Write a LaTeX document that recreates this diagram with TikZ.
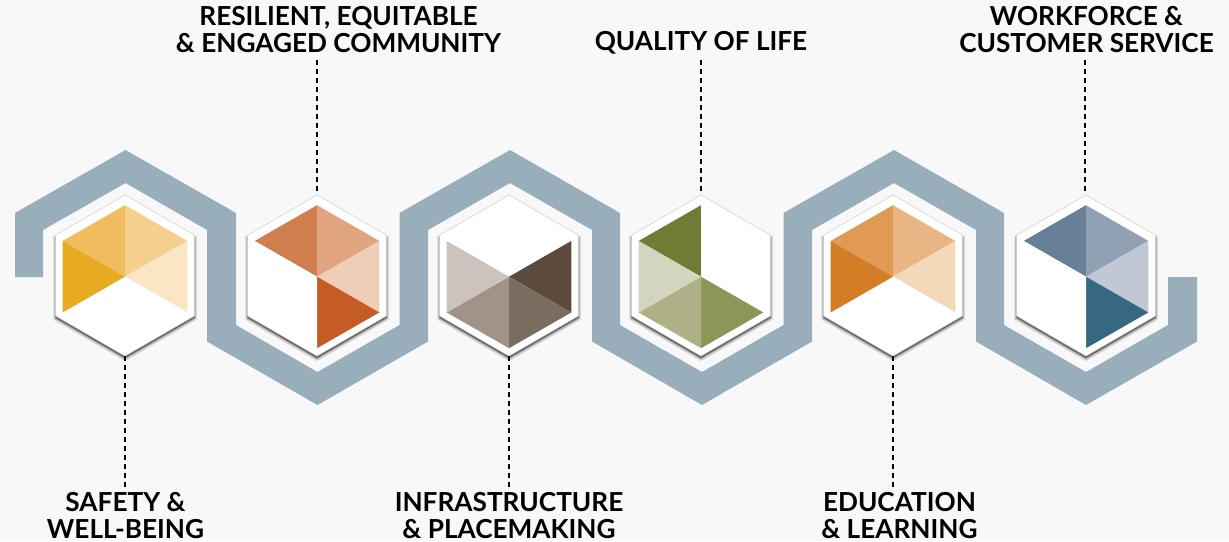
\documentclass[tikz,border=0pt]{standalone}
\usepackage{fontspec}
\usetikzlibrary{shapes.geometric}
\setmainfont{Lato}
\definecolor{pagebg}{HTML}{F8F8F8}
\definecolor{band}{HTML}{98AFBB}
\tikzset{
  x=1pt,y=-1pt,
  hexnode/.style={regular polygon,regular polygon sides=6,shape border rotate=30,minimum size=161pt,inner sep=0pt,outer sep=0pt,fill=white,draw=black!22,line width=.4pt},
  hexhalo/.style={draw=black,line join=miter,fill=black,opacity=.11},
  lead/.style={draw=black,line width=1.6pt,dash pattern=on 5pt off 4pt},
  lab/.style={font=\bfseries\fontsize{26.2}{27}\selectfont,align=center,text=black,inner sep=0pt}
}
% name, cx, colours: UL-T, T-UR, UR-LR, LR-B, B-LL, LL-UL
\newcommand{\hexa}[8]{%
  \begin{scope}[shift={(#2,275.5)}]
    \foreach \lw/\dy in {4.5/2.6,3/2.3,1.8/2,.8/1.6}{
      \path[hexhalo,line width=\lw pt] (0,-80.5+\dy) -- (69.5,-40.25+\dy) -- (69.5,40.25+\dy) -- (0,80.5+\dy) -- (-69.5,40.25+\dy) -- (-69.5,-40.25+\dy) -- cycle;
    }
    \node[hexnode] (#1) at (0,0) {};
    \begin{scope}[shift={(0,1.2)}]
      \fill[#3] (0,0) -- (-62.3,-35.75) -- (0,-71.5) -- cycle;
      \fill[#4] (0,0) -- (0,-71.5) -- (62.3,-35.75) -- cycle;
      \fill[#5] (0,0) -- (62.3,-35.75) -- (62.3,35.75) -- cycle;
      \fill[#6] (0,0) -- (62.3,35.75) -- (0,71.5) -- cycle;
      \fill[#7] (0,0) -- (0,71.5) -- (-62.3,35.75) -- cycle;
      \fill[#8] (0,0) -- (-62.3,35.75) -- (-62.3,-35.75) -- cycle;
    \end{scope}
  \end{scope}}
\definecolor{a1}{HTML}{EFBC5E}\definecolor{a2}{HTML}{F4D08C}\definecolor{a3}{HTML}{FAE6C5}\definecolor{a6}{HTML}{E8AC22}
\definecolor{b1}{HTML}{D17E4F}\definecolor{b2}{HTML}{E0A480}\definecolor{b3}{HTML}{EFCDB7}\definecolor{b4}{HTML}{C55B25}
\definecolor{c3}{HTML}{5C4A3D}\definecolor{c4}{HTML}{7B6C60}\definecolor{c5}{HTML}{A19388}\definecolor{c6}{HTML}{CCC3BD}
\definecolor{d1}{HTML}{6E7C36}\definecolor{d4}{HTML}{8C9659}\definecolor{d5}{HTML}{AEB186}\definecolor{d6}{HTML}{D3D5BE}
\definecolor{e1}{HTML}{DF9A55}\definecolor{e2}{HTML}{EAB585}\definecolor{e3}{HTML}{F4D8BA}\definecolor{e6}{HTML}{D47D27}
\definecolor{f1}{HTML}{678097}\definecolor{f2}{HTML}{90A1B3}\definecolor{f3}{HTML}{C1C8D5}\definecolor{f4}{HTML}{366881}
\begin{document}
\begin{tikzpicture}
\path[use as bounding box,fill=pagebg] (0,0) rectangle (1229,541);
\fill[band] (15,277) -- (15,213) -- (125.5,150) -- (236,213) -- (236,325) -- (317.5,372) -- (399.5,325) -- (399.5,213) -- (510,150) -- (620,213) -- (620,325) -- (702,372) -- (783.5,325) -- (783.5,213) -- (894,150) -- (1004,213) -- (1004,325) -- (1086,372) -- (1168,325) -- (1168,277) -- (1197,277) -- (1197,341.5) -- (1086,405) -- (976,341.5) -- (976,230) -- (894,183) -- (812,230) -- (812,341.5) -- (702,405) -- (592,341.5) -- (592,230) -- (510,183) -- (428,230) -- (428,341.5) -- (317.5,405) -- (207,341.5) -- (207,230) -- (125.5,183) -- (43,230) -- (43,277) -- cycle;
\hexa{h1}{125}{a1}{a2}{a3}{white}{white}{a6}
\hexa{h2}{317}{b1}{b2}{b3}{b4}{white}{white}
\hexa{h3}{509}{white}{white}{c3}{c4}{c5}{c6}
\hexa{h4}{701}{d1}{white}{white}{d4}{d5}{d6}
\hexa{h5}{893}{e1}{e2}{e3}{white}{white}{e6}
\hexa{h6}{1086}{f1}{f2}{f3}{f4}{white}{white}
\node[lab,anchor=base] (t2) at (338.5,52) {RESILIENT, EQUITABLE\\\& ENGAGED COMMUNITY};
\node[lab,anchor=base] (t4) at (701,50) {QUALITY OF LIFE};
\node[lab,anchor=base] (t6) at (1086.5,52) {WORKFORCE \&\\CUSTOMER SERVICE};
\node[lab,anchor=base] (t1) at (125.5,538.5) {SAFETY \&\\WELL-BEING};
\node[lab,anchor=base] (t3) at (509,538.5) {INFRASTRUCTURE\\\& PLACEMAKING};
\node[lab,anchor=base] (t5) at (899.5,538.5) {EDUCATION\\\& LEARNING};
\coordinate (e2) at (317,60);
\coordinate (e4) at (701,60);
\coordinate (e6) at (1085,60);
\coordinate (e1) at (125,487);
\coordinate (e3) at (509,487);
\coordinate (e5) at (893,487);
\draw[lead] (e2) -- (h2.north);
\draw[lead] (e4) -- (h4.north);
\draw[lead] (e6) -- (e6 |- h6.north);
\draw[lead] (h1.south) -- (e1);
\draw[lead] (h3.south) -- (e3);
\draw[lead] (h5.south) -- (e5);
\end{tikzpicture}
\end{document}
